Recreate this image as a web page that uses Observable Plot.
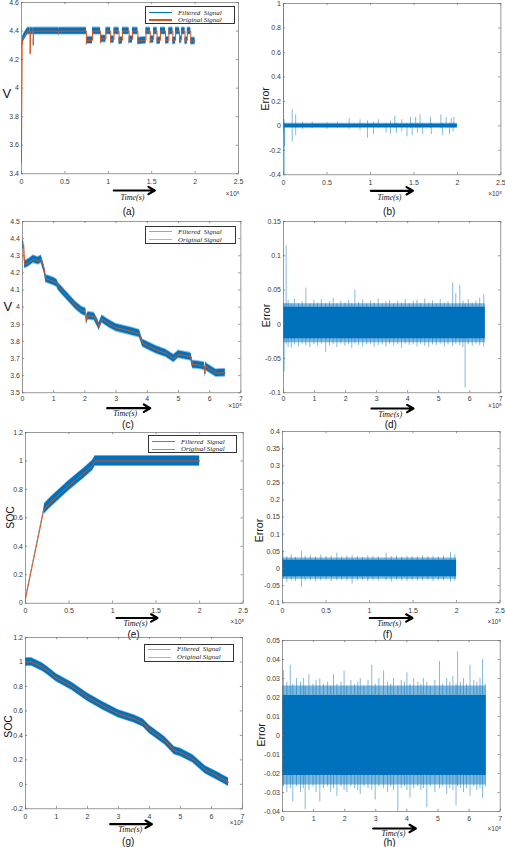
<!DOCTYPE html>
<html><head><meta charset="utf-8">
<script src="https://cdn.jsdelivr.net/npm/d3@7"></script>
<script src="https://cdn.jsdelivr.net/npm/@observablehq/plot@0.6"></script>
<style>
body{margin:0;background:#fff;}
#fig{position:relative;width:505px;height:847px;overflow:hidden;background:#fff;font-family:"Liberation Sans",Arial,sans-serif;}
.legend{position:absolute;border:0.8px solid #333;background:#fff;box-sizing:border-box;}
.legend .ln{position:absolute;height:1.2px;}
.legend .tx{position:absolute;font-family:"Liberation Serif",serif;font-style:italic;font-size:7px;line-height:10px;height:10px;color:#222;white-space:pre;}
</style></head>
<body><div id="fig"></div>
<script>
// ---------- data (time in units of 1e5 s) ----------
// (a) charging voltage
const aTime = [0,0.003,0.008,0.015,0.03,0.05,0.07,0.1,0.1,0.104,0.136,0.136,0.14,0.43,0.43,0.434,0.748,0.748,0.752,0.818,0.818,0.911,0.911,0.915,0.973,0.973,1.027,1.027,1.03,1.066,1.066,1.124,1.124,1.163,1.163,1.24,1.24,1.243,1.279,1.279,1.341,1.341,1.434,1.434,1.484,1.484,1.487,1.523,1.523,1.562,1.562,1.601,1.601,1.659,1.659,1.662,1.698,1.698,1.744,1.744,1.775,1.775,1.822,1.822,1.825,1.845,1.845,1.884,1.884,1.911,1.911,1.95,1.95,1.953,2.0];
const aVolt = [3.48,3.88,4.3,4.34,4.36,4.38,4.4,4.4,4.24,4.4,4.4,4.3,4.4,4.4,4.38,4.4,4.4,4.31,4.335,4.335,4.4,4.4,4.32,4.345,4.345,4.4,4.4,4.32,4.34,4.34,4.4,4.4,4.33,4.335,4.4,4.4,4.32,4.34,4.34,4.4,4.4,4.33,4.335,4.4,4.4,4.32,4.34,4.34,4.4,4.4,4.33,4.335,4.4,4.4,4.32,4.335,4.335,4.4,4.4,4.33,4.335,4.4,4.4,4.32,4.34,4.34,4.4,4.4,4.33,4.335,4.4,4.4,4.32,4.33,4.33];
const aBandHalf = 0.022;
const aBandStart = 0.008;
const aXTicks = [0,0.5,1,1.5,2,2.5];
const aYTicks = [3.4,3.6,3.8,4,4.2,4.4,4.6];

// (b) error of (a)
const bCoreT = [0,2.0];
const bCoreHalf = 0.014;
const bEdgeHalf = 0.022;
const bSpikeT  = [0.0,0.008,0.012,0.10,0.14,0.22,0.33,0.5,0.62,0.755,0.88,0.966,1.035,1.09,1.18,1.23,1.28,1.30,1.36,1.42,1.46,1.48,1.52,1.54,1.57,1.60,1.69,1.70,1.81,1.83,1.87,1.91,1.93,1.95,1.96];
const bSpikeHi = [1.0,0.05,0.02,0.13,0.09,0.03,0.03,0.025,0.03,0.06,0.05,0.04,0.03,0.05,0.02,0.04,0.08,0.02,0.05,0.02,0.07,0.02,0.07,0.02,0.09,0.02,0.07,0.02,0.09,0.02,0.07,0.02,0.06,0.02,0.07];
const bSpikeLo = [-0.05,-0.4,-0.17,-0.13,-0.08,-0.03,-0.025,-0.03,-0.02,-0.03,-0.04,-0.1,-0.07,-0.02,-0.06,-0.07,-0.02,-0.06,-0.05,-0.09,-0.02,-0.08,-0.02,-0.06,-0.02,-0.07,-0.02,-0.07,-0.02,-0.08,-0.02,-0.07,-0.02,-0.05,-0.02];
const bXTicks = [0,0.5,1,1.5,2,2.5];
const bYTicks = [-0.4,-0.2,0,0.2,0.4,0.6,0.8,1];

// (c) discharging voltage
const cTime = [0,0.04,0.07,0.1,0.2,0.35,0.5,0.6,0.7,0.75,0.85,1.0,1.1,1.15,1.3,1.5,1.7,1.9,2.03,2.05,2.1,2.3,2.43,2.45,2.55,2.8,3.0,3.5,3.75,3.85,4.0,4.3,4.6,4.85,5.0,5.4,5.45,5.7,5.83,5.85,5.87,5.9,6.2,6.5];
const cVolt = [4.37,4.36,4.25,4.25,4.26,4.28,4.27,4.28,4.22,4.165,4.16,4.15,4.14,4.12,4.09,4.05,4.01,3.98,3.97,3.92,3.95,3.945,3.9,3.885,3.93,3.9,3.88,3.858,3.845,3.79,3.776,3.75,3.73,3.70,3.724,3.71,3.665,3.66,3.655,3.61,3.66,3.65,3.615,3.617];
const cBandHalf = 0.02;
const cXTicks = [0,1,2,3,4,5,6,7];
const cYTicks = [3.5,3.6,3.7,3.8,3.9,4,4.1,4.2,4.3,4.4,4.5];

// (d) error of (c)
const dCoreT = [0,6.5];
const dCoreHi = 0.025, dCoreLo = -0.021;
const dEdgeHi = 0.03, dEdgeLo = -0.027;
const dSpikeT  = [0.02,0.085,0.15,0.25,0.35,0.48,0.6,0.72,0.85,0.98,1.1,1.22,1.36,1.48,1.6,1.72,1.85,1.98,2.1,2.2,2.3,2.42,2.55,2.68,2.8,2.92,3.05,3.18,3.3,3.42,3.55,3.68,3.8,3.92,4.05,4.18,4.3,4.42,4.55,4.68,4.8,4.92,5.05,5.18,5.3,5.45,5.55,5.68,5.78,5.85,5.95,6.08,6.2,6.32,6.45];
const dSpikeHi = [0.03,0.115,0.035,0.03,0.037,0.03,0.033,0.053,0.03,0.035,0.031,0.036,0.03,0.033,0.038,0.03,0.034,0.031,0.035,0.03,0.05,0.032,0.036,0.03,0.034,0.031,0.037,0.03,0.033,0.035,0.03,0.034,0.031,0.036,0.03,0.033,0.035,0.03,0.037,0.031,0.034,0.03,0.036,0.031,0.033,0.06,0.045,0.057,0.034,0.03,0.036,0.031,0.034,0.038,0.043];
const dSpikeLo = [-0.07,-0.03,-0.034,-0.035,-0.03,-0.033,-0.029,-0.031,-0.034,-0.03,-0.032,-0.029,-0.041,-0.031,-0.03,-0.034,-0.029,-0.032,-0.03,-0.035,-0.029,-0.031,-0.033,-0.03,-0.029,-0.034,-0.031,-0.03,-0.033,-0.029,-0.032,-0.03,-0.035,-0.029,-0.031,-0.03,-0.033,-0.029,-0.032,-0.034,-0.03,-0.031,-0.029,-0.033,-0.03,-0.032,-0.029,-0.031,-0.034,-0.093,-0.03,-0.032,-0.029,-0.031,-0.033];
const dXTicks = [0,1,2,3,4,5,6,7];
const dYTicks = [-0.1,-0.05,0,0.05,0.1,0.15];

// (e) charging SOC
const eTime = [0,0.21,0.22,0.29,0.5,0.67,0.77,0.8,2.0];
const eSOC  = [0.03,0.655,0.665,0.71,0.827,0.914,0.968,1.0,1.0];
const eHalf = [0.004,0.006,0.033,0.033,0.033,0.033,0.033,0.033,0.033];
const eXTicks = [0,0.5,1,1.5,2,2.5];
const eYTicks = [0,0.2,0.4,0.6,0.8,1,1.2];

// (f) error of (e)
const fCoreT = [0,2.0];
const fCoreHalf = 0.024, fEdgeHalf = 0.031;
const fSpikeT  = [0.0,0.005,0.05,0.1,0.15,0.218,0.26,0.32,0.38,0.44,0.5,0.56,0.624,0.68,0.74,0.8,0.86,0.92,0.98,1.04,1.1,1.19,1.25,1.31,1.37,1.43,1.49,1.55,1.61,1.67,1.73,1.79,1.85,1.93,1.98];
const fSpikeHi = [0.36,0.05,0.035,0.04,0.033,0.05,0.036,0.038,0.034,0.04,0.035,0.037,0.045,0.034,0.036,0.038,0.035,0.033,0.037,0.036,0.034,0.045,0.035,0.037,0.034,0.036,0.035,0.034,0.038,0.035,0.036,0.034,0.037,0.047,0.04];
const fSpikeLo = [0,-0.03,-0.04,-0.036,-0.038,-0.054,-0.037,-0.035,-0.039,-0.036,-0.034,-0.038,-0.036,-0.035,-0.037,-0.045,-0.036,-0.034,-0.038,-0.035,-0.037,-0.036,-0.039,-0.034,-0.036,-0.038,-0.035,-0.037,-0.036,-0.034,-0.038,-0.035,-0.036,-0.04,-0.037];
const fXTicks = [0,0.5,1,1.5,2,2.5];
const fYTicks = [-0.1,-0.05,0,0.05,0.1,0.15,0.2,0.25,0.3,0.35,0.4];

// (g) discharging SOC
const gTime = [0,0.2,0.55,0.7,1.0,1.5,2.0,2.5,3.0,3.5,3.8,4.0,4.5,4.8,5.0,5.4,5.8,6.2,6.55];
const gSOC  = [1.0,1.0,0.957,0.93,0.87,0.80,0.712,0.64,0.576,0.535,0.50,0.448,0.355,0.276,0.26,0.208,0.118,0.066,0.017];
const gBandHalf = 0.03;
const gXTicks = [0,1,2,3,4,5,6,7];
const gYTicks = [-0.2,0,0.2,0.4,0.6,0.8,1,1.2];

// (h) error of (g)
const hCoreT = [0,6.55];
const hCoreHalf = 0.021, hEdgeHalf = 0.026;
const hSpikeT  = [0.03,0.14,0.25,0.33,0.45,0.58,0.67,0.73,0.85,0.98,1.08,1.2,1.32,1.45,1.55,1.64,1.75,1.88,1.98,2.07,2.2,2.32,2.42,2.5,2.62,2.75,2.87,2.98,3.1,3.25,3.38,3.48,3.57,3.71,3.82,3.92,4.0,4.1,4.22,4.35,4.45,4.53,4.64,4.75,4.9,5.05,5.15,5.28,5.38,5.48,5.58,5.63,5.72,5.82,5.92,6.03,6.15,6.25,6.35,6.43,6.52];
const hSpikeHi = [0.034,0.028,0.037,0.027,0.03,0.028,0.03,0.026,0.032,0.027,0.029,0.03,0.027,0.028,0.026,0.032,0.027,0.028,0.034,0.026,0.029,0.027,0.028,0.03,0.026,0.029,0.037,0.027,0.03,0.034,0.028,0.027,0.03,0.026,0.029,0.028,0.033,0.027,0.03,0.028,0.027,0.03,0.028,0.026,0.029,0.039,0.027,0.03,0.028,0.031,0.027,0.044,0.028,0.03,0.027,0.037,0.029,0.028,0.03,0.04,0.027];
const hSpikeLo = [-0.027,-0.03,-0.028,-0.035,-0.027,-0.03,-0.028,-0.039,-0.029,-0.027,-0.03,-0.035,-0.028,-0.027,-0.03,-0.028,-0.032,-0.027,-0.029,-0.03,-0.027,-0.028,-0.029,-0.031,-0.027,-0.028,-0.029,-0.034,-0.027,-0.028,-0.03,-0.027,-0.029,-0.04,-0.028,-0.027,-0.029,-0.033,-0.028,-0.027,-0.029,-0.028,-0.038,-0.027,-0.03,-0.028,-0.027,-0.031,-0.028,-0.029,-0.037,-0.027,-0.028,-0.03,-0.028,-0.032,-0.027,-0.029,-0.028,-0.033,-0.027];
const hXTicks = [0,1,2,3,4,5,6,7];
const hYTicks = [-0.04,-0.03,-0.02,-0.01,0,0.01,0.02,0.03,0.04,0.05];

const legendNames = ["Filtered  Signal", "Original Signal"];

// ---------- styling ----------
const BLUE = "#0072BD", ORANGE = "#D95319", AXIS = "#6e6e6e", TXT = "#3a3a3a";
const idx = arr => arr.map((_, i) => i);

function signalMarks(T, V, half, startT) {
  const I = idx(T).filter(i => T[i] >= startT);
  const H = i => (Array.isArray(half) ? half[i] : half);
  return [
    Plot.areaY(I, {x: i => T[i], y1: i => V[i] - H(i) - 0.006 * (H(i) > 0.01), y2: i => V[i] + H(i) + 0.006 * (H(i) > 0.01), fill: BLUE, fillOpacity: 0.45}),
    Plot.areaY(I, {x: i => T[i], y1: i => V[i] - H(i), y2: i => V[i] + H(i), fill: BLUE}),
    Plot.line(idx(T), {x: i => T[i], y: i => V[i], stroke: ORANGE, strokeWidth: 1})
  ];
}
function errorMarks(coreT, coreHi, coreLo, edgeHi, edgeLo, ST, SH, SL) {
  const n = Math.min(ST.length, SH.length, SL.length);
  const S = d3.range(n);
  return [
    Plot.areaY(coreT, {x: d => d, y1: edgeLo, y2: edgeHi, fill: BLUE, fillOpacity: 0.5}),
    Plot.ruleX(S, {x: i => ST[i], y1: i => SL[i], y2: i => SH[i], stroke: BLUE, strokeOpacity: 0.55, strokeWidth: 0.9}),
    Plot.areaY(coreT, {x: d => d, y1: coreLo, y2: coreHi, fill: BLUE})
  ];
}

function buildPanel(p) {
  const {L, R, T, B} = p.box;
  const mL = 34, mR = 8, mT = 6, mB = 52;
  const fw = R - L, fh = B - T;
  const [x0, x1] = p.xDomain, [y0, y1] = p.yDomain;
  const X = px => x0 + (px - L) / fw * (x1 - x0);
  const Y = py => y1 - (py - T) / fh * (y1 - y0);
  const tk = 2.2;
  const dxT = tk / fw * (x1 - x0), dyT = tk / fh * (y1 - y0);
  const fmt = d => String(d);
  const ax = {stroke: AXIS, strokeWidth: 0.7};
  const marks = [
    ...p.marks,
    Plot.ruleX(p.xTicks, {x: d => d, y1: y0, y2: y0 + dyT, ...ax}),
    Plot.ruleX(p.xTicks, {x: d => d, y1: y1, y2: y1 - dyT, ...ax}),
    Plot.ruleY(p.yTicks, {y: d => d, x1: x0, x2: x0 + dxT, ...ax}),
    Plot.ruleY(p.yTicks, {y: d => d, x1: x1, x2: x1 - dxT, ...ax}),
    Plot.frame(ax),
    Plot.text(p.xTicks, {x: d => d, y: Y(p.tickY), text: fmt, fontSize: 7, fill: TXT}),
    Plot.text(p.yTicks, {x: X(L - 2.5), y: d => d, text: fmt, textAnchor: "end", fontSize: 7, fill: TXT}),
    Plot.text([p.yLabel], {x: X(p.yLabelPos[0]), y: Y(p.yLabelPos[1]), text: d => d, rotate: p.yLabelRotate, fontSize: p.yLabelSize, fill: "#111"}),
    Plot.text(["×10⁵"], {x: X(R + 1), y: Y(p.x10Y), text: d => d, textAnchor: "end", fontSize: 6.5, fill: TXT}),
    Plot.arrow([0], {x1: X(p.arrow[0]), x2: X(p.arrow[1]), y1: Y(p.arrow[2]), y2: Y(p.arrow[2]), stroke: "#000", strokeWidth: 2.2, headLength: 5, headAngle: 60}),
    Plot.text(["Time(s)"], {x: X(p.timePos[0]), y: Y(p.timePos[1]), text: d => d, fontFamily: "Liberation Serif, serif", fontStyle: "italic", fontSize: 8, fill: "#111"}),
    Plot.text([p.panelLabel], {x: X(p.labelPos[0]), y: Y(p.labelPos[1]), text: d => d, fontSize: 10, fill: "#111"})
  ];
  const svg = Plot.plot({
    width: fw + mL + mR, height: fh + mT + mB,
    marginLeft: mL, marginRight: mR, marginTop: mT, marginBottom: mB,
    x: {domain: p.xDomain, axis: null},
    y: {domain: p.yDomain, axis: null},
    style: {background: "transparent", overflow: "visible", fontFamily: "Liberation Sans, Arial, sans-serif"},
    marks
  });
  svg.style.position = "absolute";
  svg.style.left = (L - mL) + "px";
  svg.style.top = (T - mT) + "px";
  svg.style.maxWidth = "none";
  return svg;
}

function legend(box, rows, textLeft, alpha) {
  const d = document.createElement("div");
  d.className = "legend";
  Object.assign(d.style, {left: box[0] + "px", top: box[1] + "px", width: (box[2] - box[0]) + "px", height: (box[3] - box[1]) + "px"});
  [BLUE, ORANGE].forEach((c, k) => {
    const ln = document.createElement("div");
    ln.className = "ln";
    Object.assign(ln.style, {left: "3px", width: "23px", top: (rows[k] - 0.6) + "px", background: c, opacity: alpha});
    const tx = document.createElement("div");
    tx.className = "tx";
    tx.textContent = legendNames[k];
    Object.assign(tx.style, {left: textLeft + "px", top: (rows[k] - 5) + "px"});
    d.appendChild(ln); d.appendChild(tx);
  });
  return d;
}

const fig = document.getElementById("fig");
const panels = [
  {box: {L: 20.7, R: 237.7, T: 2, B: 173.3}, xDomain: [0, 2.5], yDomain: [3.4, 4.6], xTicks: aXTicks, yTicks: aYTicks,
   marks: signalMarks(aTime, aVolt, aBandHalf, aBandStart), tickY: 181.7, yLabel: "V", yLabelPos: [6, 93], yLabelRotate: 0, yLabelSize: 13,
   x10Y: 193, arrow: [113, 154, 190], timePos: [131.7, 196.5], panelLabel: "(a)", labelPos: [128, 211]},
  {box: {L: 283.3, R: 500.7, T: 2.7, B: 174}, xDomain: [0, 2.5], yDomain: [-0.4, 1], xTicks: bXTicks, yTicks: bYTicks,
   marks: errorMarks(bCoreT, bCoreHalf, -bCoreHalf, bEdgeHalf, -bEdgeHalf, bSpikeT, bSpikeHi, bSpikeLo), tickY: 181.7, yLabel: "Error", yLabelPos: [265, 98], yLabelRotate: -90, yLabelSize: 10.5,
   x10Y: 193, arrow: [370.7, 412.7, 190], timePos: [389.3, 196.5], panelLabel: "(b)", labelPos: [389, 211]},
  {box: {L: 22.3, R: 240.7, T: 221, B: 392.3}, xDomain: [0, 7], yDomain: [3.5, 4.5], xTicks: cXTicks, yTicks: cYTicks,
   marks: signalMarks(cTime, cVolt, cBandHalf, 0), tickY: 398.3, yLabel: "V", yLabelPos: [7.5, 306], yLabelRotate: 0, yLabelSize: 13,
   x10Y: 405.5, arrow: [107, 150, 407.7], timePos: [125, 412.5], panelLabel: "(c)", labelPos: [127.7, 424]},
  {box: {L: 282.7, R: 500, T: 221, B: 392.3}, xDomain: [0, 7], yDomain: [-0.1, 0.15], xTicks: dXTicks, yTicks: dYTicks,
   marks: errorMarks(dCoreT, dCoreHi, dCoreLo, dEdgeHi, dEdgeLo, dSpikeT, dSpikeHi, dSpikeLo), tickY: 398.3, yLabel: "Error", yLabelPos: [266, 315], yLabelRotate: -90, yLabelSize: 10.5,
   x10Y: 405.5, arrow: [370.7, 412.7, 408], timePos: [389.3, 413.5], panelLabel: "(d)", labelPos: [390, 424]},
  {box: {L: 25, R: 242.7, T: 432, B: 602.7}, xDomain: [0, 2.5], yDomain: [0, 1.2], xTicks: eXTicks, yTicks: eYTicks,
   marks: signalMarks(eTime, eSOC, eHalf, 0), tickY: 610.7, yLabel: "SOC", yLabelPos: [10.3, 517], yLabelRotate: -90, yLabelSize: 10.5,
   x10Y: 621.7, arrow: [116, 157, 617.5], timePos: [135, 622.5], panelLabel: "(e)", labelPos: [133, 634]},
  {box: {L: 281.7, R: 499.3, T: 431, B: 602.3}, xDomain: [0, 2.5], yDomain: [-0.1, 0.4], xTicks: fXTicks, yTicks: fYTicks,
   marks: errorMarks(fCoreT, fCoreHalf, -fCoreHalf, fEdgeHalf, -fEdgeHalf, fSpikeT, fSpikeHi, fSpikeLo), tickY: 610, yLabel: "Error", yLabelPos: [259, 530], yLabelRotate: -90, yLabelSize: 10.5,
   x10Y: 621.7, arrow: [369, 411.7, 617.5], timePos: [388.3, 622.5], panelLabel: "(f)", labelPos: [386.7, 634]},
  {box: {L: 25.3, R: 242.3, T: 637, B: 808.3}, xDomain: [0, 7], yDomain: [-0.2, 1.2], xTicks: gXTicks, yTicks: gYTicks,
   marks: signalMarks(gTime, gSOC, gBandHalf, 0), tickY: 816, yLabel: "SOC", yLabelPos: [8, 726], yLabelRotate: -90, yLabelSize: 10.5,
   x10Y: 822.5, arrow: [110, 151.7, 823.7], timePos: [130, 828.5], panelLabel: "(g)", labelPos: [128, 841.7]},
  {box: {L: 282.3, R: 500, T: 639.7, B: 810.7}, xDomain: [0, 7], yDomain: [-0.04, 0.05], xTicks: hXTicks, yTicks: hYTicks,
   marks: errorMarks(hCoreT, hCoreHalf, -hCoreHalf, hEdgeHalf, -hEdgeHalf, hSpikeT, hSpikeHi, hSpikeLo), tickY: 818.3, yLabel: "Error", yLabelPos: [261, 734], yLabelRotate: -90, yLabelSize: 10.5,
   x10Y: 827.7, arrow: [373, 415.7, 827.7], timePos: [393.3, 832.5], panelLabel: "(h)", labelPos: [389.3, 842]}
];
panels.forEach(p => fig.appendChild(buildPanel(p)));

fig.appendChild(legend([145, 6, 235, 24], [5.7, 13], 32, 1));
fig.appendChild(legend([145, 225.7, 236, 244], [5, 13], 32, 0.55));
fig.appendChild(legend([148, 435, 237, 453.3], [5.7, 13.3], 32, 0.8));
fig.appendChild(legend([144, 644.3, 234, 661.7], [4, 12], 32, 0.55));
</script>
</body></html>
